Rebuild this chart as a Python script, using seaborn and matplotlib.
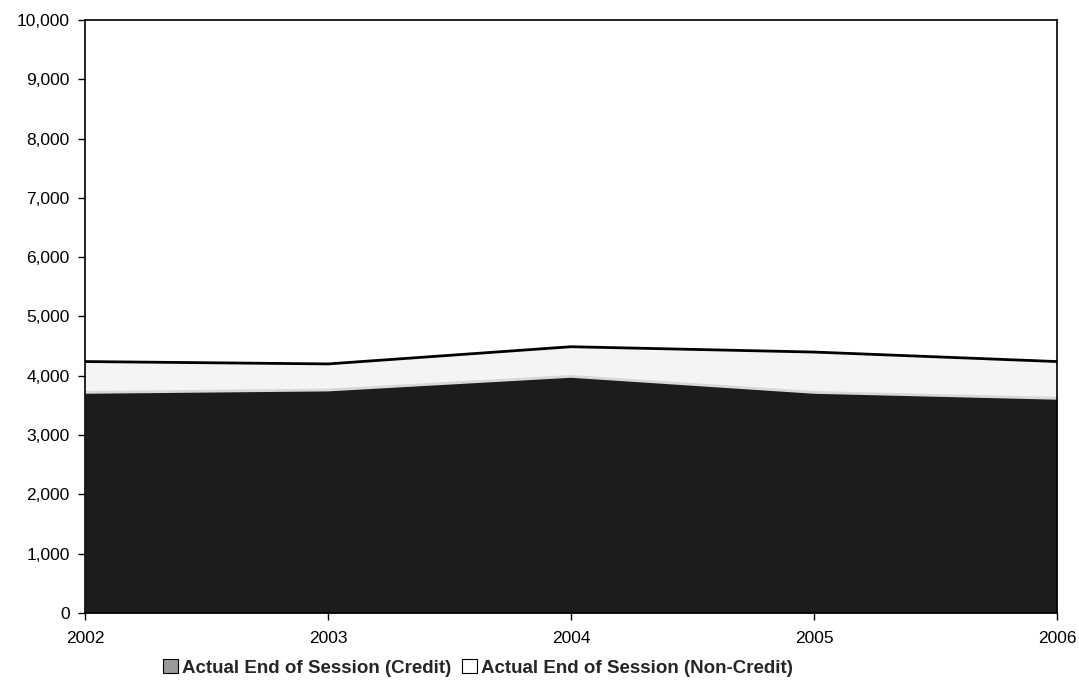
import matplotlib
matplotlib.use("Agg")
import matplotlib.pyplot as plt
import matplotlib.ticker as mticker
from matplotlib.patches import Patch
import seaborn as sns
import pandas as pd

# data
years = [2002, 2003, 2004, 2005, 2006]
credit = [3720, 3760, 3990, 3720, 3620]
non_credit = [520, 440, 500, 680, 620]
series_names = ['Actual End of Session (Credit)', 'Actual End of Session (Non-Credit)']

sns.set_style('white')
plt.rcParams['font.family'] = ['Liberation Sans', 'DejaVu Sans']

df = pd.DataFrame({'year': years, 'credit': credit, 'non_credit': non_credit})
df['total'] = df['credit'] + df['non_credit']

fig = plt.figure(figsize=(10.79, 6.82), dpi=100)
ax = fig.add_axes([0.0788, 0.1012, 0.9008, 0.8695])

# stacked areas
ax.fill_between(df['year'], 0, df['credit'], color='#1c1c1c', linewidth=0)
ax.fill_between(df['year'], df['credit'], df['total'], color='#f4f4f4', linewidth=0)

# boundary lines
sns.lineplot(data=df, x='year', y='credit', ax=ax, color='#d8d8d8', linewidth=2.0)
sns.lineplot(data=df, x='year', y='total', ax=ax, color='black', linewidth=2.0)

ax.set_xlim(2002, 2006)
ax.set_ylim(0, 10000)
ax.set_xticks(years)
ax.set_yticks(range(0, 10001, 1000))
ax.yaxis.set_major_formatter(mticker.FuncFormatter(lambda v, p: f'{int(v):,}'))
ax.set_xlabel('')
ax.set_ylabel('')
ax.tick_params(axis='both', direction='out', length=5, width=1, labelsize=12.5,
               colors='black', bottom=True, left=True)
ax.tick_params(axis='y', pad=6)
ax.tick_params(axis='x', pad=8)

for s in ax.spines.values():
    s.set_visible(True)
    s.set_color('black')
    s.set_linewidth(1.2)

handles = [
    Patch(facecolor='#9a9a9a', edgecolor='black', linewidth=0.8),
    Patch(facecolor='white', edgecolor='black', linewidth=0.8),
]
fig.legend(handles, series_names, loc='center', bbox_to_anchor=(0.443, 0.021),
           ncol=2, frameon=False, prop={'weight': 'bold', 'size': 13.5},
           handlelength=0.8, handleheight=0.8, handletextpad=0.2, columnspacing=0.6)

fig.savefig('out.png', dpi=100)
